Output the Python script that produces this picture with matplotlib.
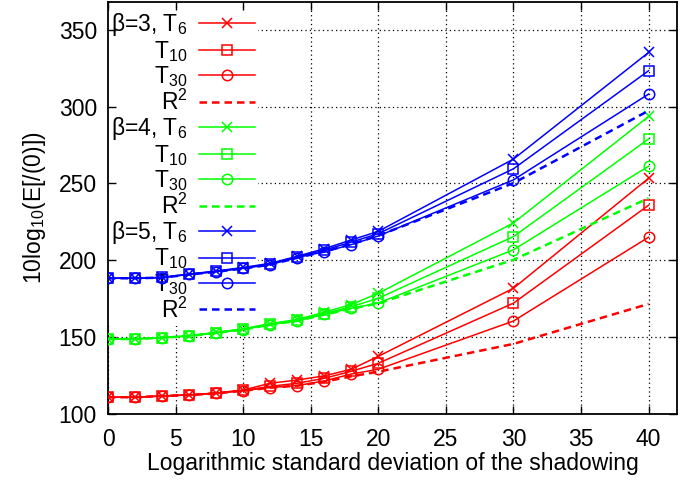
import matplotlib
matplotlib.use("Agg")
import matplotlib.pyplot as plt

plt.rcParams['font.family'] = ['Liberation Sans', 'DejaVu Sans']
plt.rcParams['mathtext.fontset'] = 'custom'
plt.rcParams['mathtext.rm'] = 'Liberation Sans'
plt.rcParams['mathtext.it'] = 'Liberation Sans:italic'
plt.rcParams['font.size'] = 16.5

# shadowing std. deviation (dB)
sigma = [0, 2, 4, 6, 8, 10, 12, 14, 16, 18, 20, 30, 40]

# beta = 3
b3_t6 = [110.9, 110.9, 111.7, 112.4, 113.7, 115.6, 120.0, 122.1, 124.8, 129.1, 137.5, 181.8, 253.4]
b3_t10 = [110.9, 110.9, 111.7, 112.4, 113.5, 115.3, 118.0, 120.0, 123.2, 127.8, 133.0, 172.1, 235.8]
b3_t30 = [110.9, 110.9, 111.7, 112.4, 113.5, 115.2, 117.2, 118.5, 121.5, 126.0, 129.1, 160.5, 215.0]
b3_r2 = [110.9, 110.9, 111.7, 112.3, 113.4, 115.1, 117.1, 118.4, 121.0, 124.5, 127.5, 145.6, 171.6]

# beta = 4
b4_t6 = [148.8, 148.8, 149.7, 150.9, 153.1, 155.4, 158.8, 161.5, 166.2, 171.2, 178.5, 224.3, 293.6]
b4_t10 = [148.8, 148.8, 149.7, 150.8, 152.9, 155.1, 158.4, 161.0, 165.3, 169.8, 175.3, 215.4, 278.9]
b4_t30 = [148.8, 148.8, 149.6, 150.7, 152.8, 154.9, 158.2, 160.6, 164.8, 168.8, 172.2, 206.8, 261.2]
b4_r2 = [148.8, 148.8, 149.6, 150.7, 152.8, 154.9, 158.1, 160.6, 164.6, 168.4, 172.0, 200.3, 240.4]

# beta = 5
b5_t6 = [188.3, 188.3, 188.9, 191.0, 193.0, 195.3, 198.0, 202.6, 207.5, 213.2, 218.8, 265.8, 335.2]
b5_t10 = [188.3, 188.3, 188.8, 190.9, 192.8, 195.0, 197.6, 202.2, 206.6, 211.8, 217.3, 259.5, 323.3]
b5_t30 = [188.3, 188.3, 188.7, 190.8, 192.6, 194.7, 197.2, 201.8, 205.5, 210.2, 215.8, 252.3, 308.1]
b5_r2 = [188.3, 188.3, 188.7, 190.7, 192.5, 194.6, 197.1, 201.6, 205.6, 210.4, 216.0, 250.2, 297.3]

xticks = [0, 5, 10, 15, 20, 25, 30, 35, 40]
yticks = [100, 150, 200, 250, 300, 350]

groups = [
    ('3', '#ff0000', b3_t6, b3_t10, b3_t30, b3_r2),
    ('4', '#00ff00', b4_t6, b4_t10, b4_t30, b4_r2),
    ('5', '#0000ff', b5_t6, b5_t10, b5_t30, b5_r2),
]

fig = plt.figure(figsize=(6.99, 4.8), dpi=100)
ax = fig.add_axes([108 / 699, 1 - 414 / 480, (677 - 108) / 699, (414 - 2) / 480])

# dotted grid (drawn by hand so the ticks stay above the key box)
for xt in xticks:
    ax.axvline(xt, color='black', lw=0.9, ls=(0, (1, 2.5)), zorder=0.5)
for yt in yticks:
    ax.axhline(yt, color='black', lw=0.9, ls=(0, (1, 2.5)), zorder=0.5)

for beta, col, t6, t10, t30, r2 in groups:
    ax.plot(sigma, t6, color=col, lw=1.1, marker='x', ms=7.5, mew=1.1,
            label='β=%s, T$_6$' % beta, zorder=3)
    ax.plot(sigma, t10, color=col, lw=1.1, marker='s', ms=7.5, mew=1.1,
            mfc='none', label='T$_{10}$', zorder=3)
    ax.plot(sigma, t30, color=col, lw=1.1, marker='o', ms=7.5, mew=1.1,
            mfc='none', label='T$_{30}$', zorder=3)
    ax.plot(sigma, r2, color=col, lw=1.8, ls=(0, (3, 2)),
            label='R$^2$', zorder=3)

leg = ax.legend(loc='upper left', bbox_to_anchor=(0.0, 1.0 - 6 / 412), markerfirst=False,
                handlelength=2.45, handletextpad=0.48, labelspacing=0.02,
                borderpad=0.15, borderaxespad=0.0, fontsize=16.5,
                frameon=True, fancybox=False, framealpha=1.0)
leg.get_frame().set_facecolor('white')
leg.get_frame().set_edgecolor('none')
leg.set_zorder(1)

ax.set_xlim(0, 42.1)
ax.set_ylim(100, 368)
ax.set_xticks(xticks)
ax.set_yticks(yticks)
ax.tick_params(direction='in', length=6, width=1, top=True, right=True)
ax.tick_params(axis='x', pad=10)
ax.tick_params(axis='y', pad=8)
for sp in ax.spines.values():
    sp.set_linewidth(1.3)

ax.set_xlabel('Logarithmic standard deviation of the shadowing', labelpad=1)
ax.set_ylabel('10log$_{10}$(E[/(0)])', labelpad=8)

fig.savefig('out.png', dpi=100)
